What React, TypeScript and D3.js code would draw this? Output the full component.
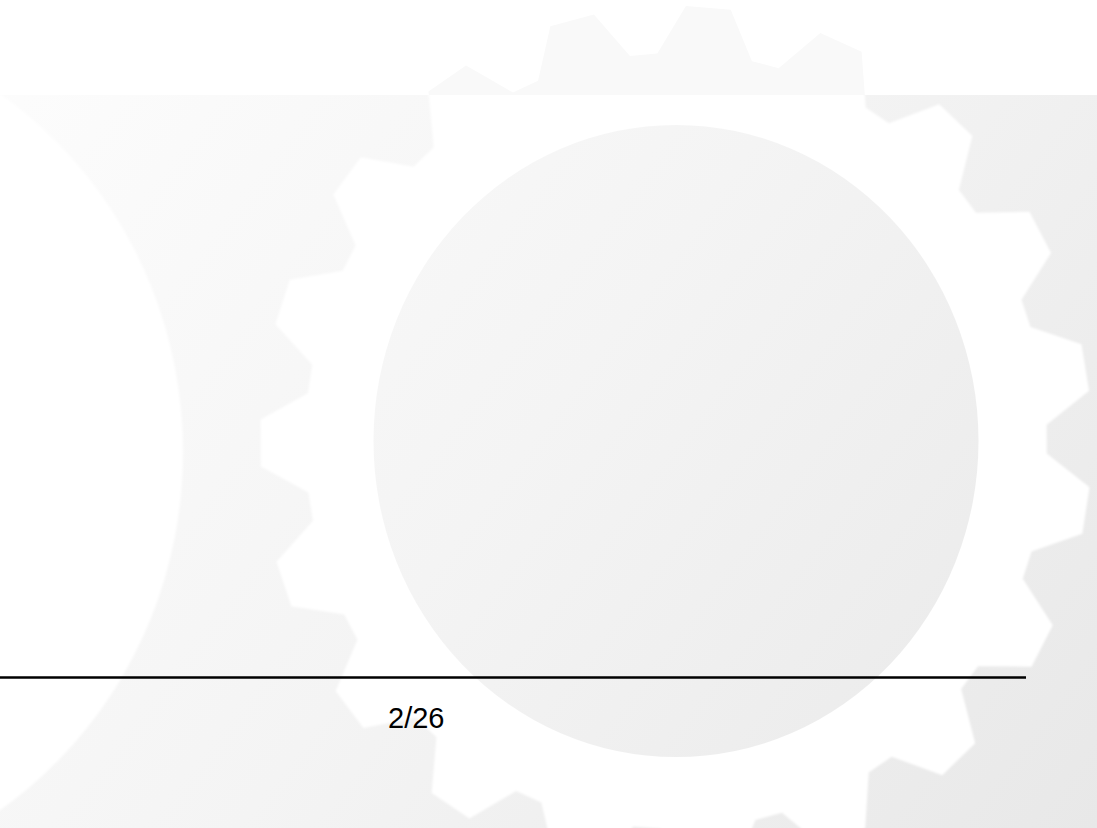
import React from "react";
import * as d3 from "d3";

// ---- content ----
const pageLabels = ["2/26"];
const currentPage = 0;

// gear description (degrees / pixel radii of the watermark)
const toothCount = 19;
const firstToothAngle = 9.2; // clockwise from 3 o'clock
const toothProfileAngles = [-3.1, 3.1, 7.35, 11.6];
const toothProfileRadii = [435, 435, 388, 388];

const W = 1097;
const H = 828;

export default function App() {
  const cx = 676;
  const cy = 441;
  const sx = 0.956;

  const angle = d3.scaleLinear().domain([0, 360]).range([0, 2 * Math.PI]);
  const pts: [number, number][] = [];
  d3.range(toothCount).forEach((k) => {
    const c = firstToothAngle + (k * 360) / toothCount;
    toothProfileAngles.forEach((off, i) => {
      const a = angle(c + off);
      const r = toothProfileRadii[i];
      pts.push([cx + Math.cos(a) * r * sx, cy + Math.sin(a) * r]);
    });
  });
  const gearPath = d3.line().curve(d3.curveLinearClosed)(pts) || "";

  const bandH = 95;
  const lineY = 677.5;
  const lineEnd = 1026;

  return (
    <svg
      width={W}
      height={H}
      style={{ position: "fixed", left: 0, top: 0, display: "block" }}
    >
      <defs>
        <linearGradient id="bg" gradientUnits="userSpaceOnUse" x1={0} y1={0} x2={W} y2={H}>
          <stop offset="0" stopColor="#fdfdfd" />
          <stop offset="0.5" stopColor="#f4f4f4" />
          <stop offset="1" stopColor="#e8e8e8" />
        </linearGradient>
        <clipPath id="below">
          <rect x={0} y={bandH} width={W} height={H - bandH} />
        </clipPath>
        <clipPath id="above">
          <rect x={0} y={0} width={W} height={bandH} />
        </clipPath>
        <filter id="soft" x="-10%" y="-10%" width="120%" height="120%">
          <feGaussianBlur stdDeviation="1.2" />
        </filter>
      </defs>
      <rect x={0} y={0} width={W} height={H} fill="url(#bg)" />
      {/* left white lens */}
      <ellipse cx={-240} cy={452} rx={423} ry={435} fill="#ffffff" filter="url(#soft)" />
      {/* top white band */}
      <rect x={0} y={0} width={W} height={bandH} fill="#ffffff" />
      {/* gear: white below band, light grey above */}
      <path d={gearPath} fill="#ffffff" clipPath="url(#below)" filter="url(#soft)" />
      <path d={gearPath} fill="#f9f9f9" clipPath="url(#above)" />
      {/* hub */}
      <ellipse cx={cx} cy={cy} rx={302.5} ry={316} fill="url(#bg)" />
      {/* footer rule and page number */}
      <line x1={0} x2={lineEnd} y1={lineY} y2={lineY} stroke="#000" strokeWidth={2.4} />
      <text
        x={388}
        y={728}
        fontFamily="'Liberation Sans', Arial, sans-serif"
        fontSize={29}
        fill="#000"
      >
        {pageLabels[currentPage]}
      </text>
    </svg>
  );
}
